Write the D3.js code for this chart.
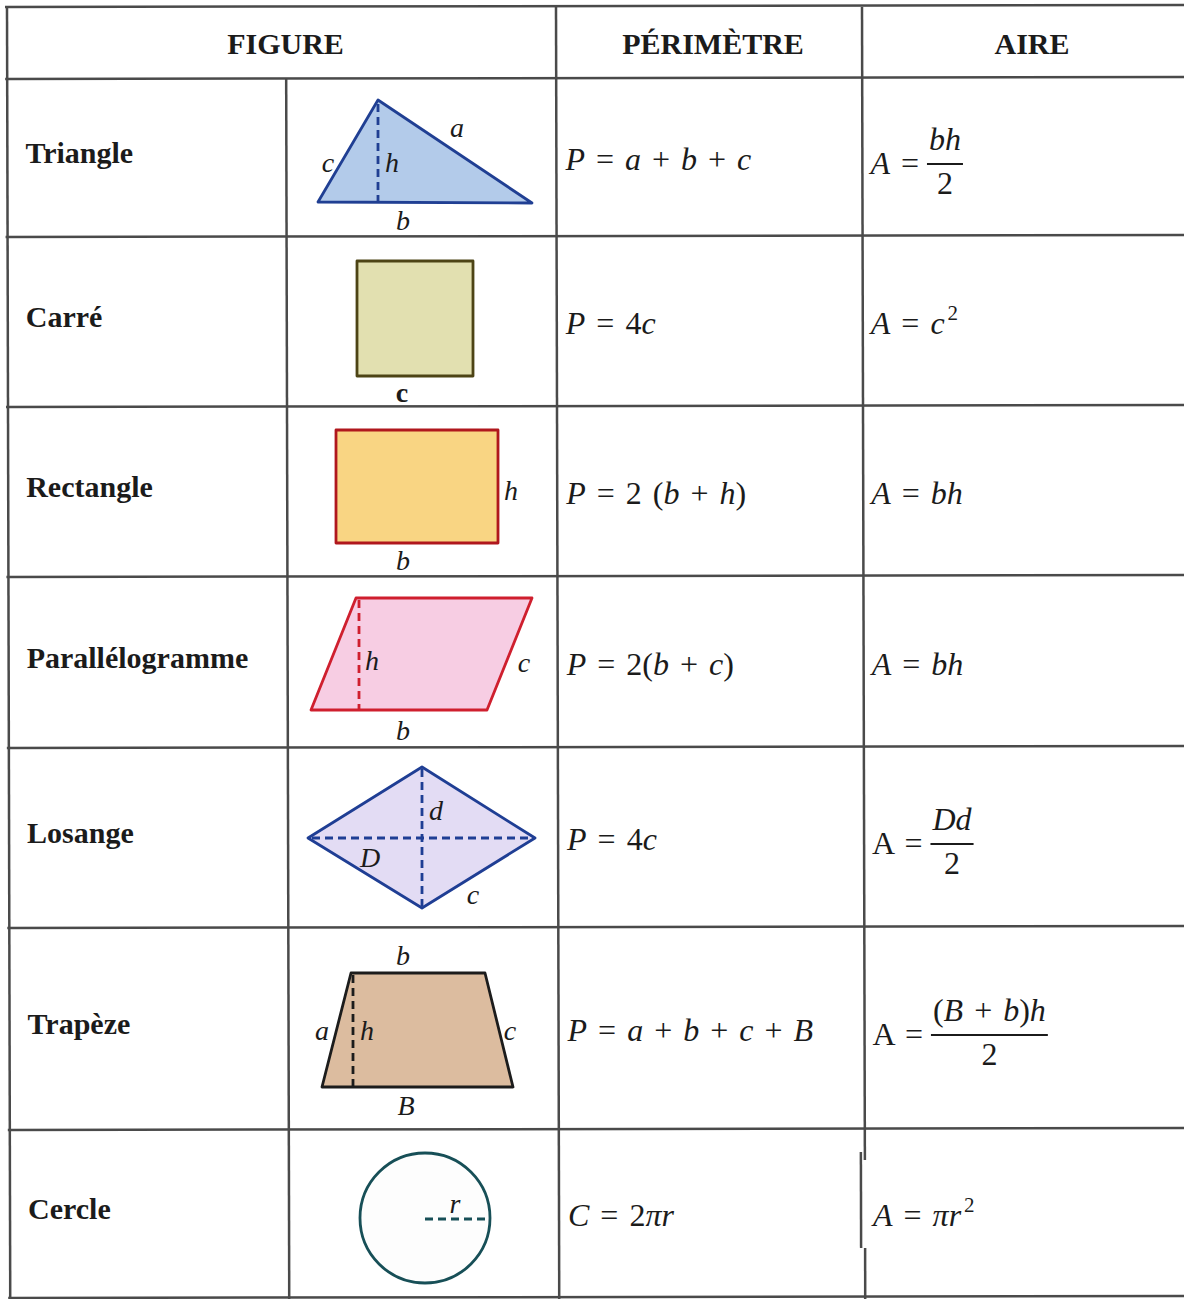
<!doctype html>
<meta charset='utf-8'>
<title>Périmètre et aire des figures</title>

<style type="text/css">
	body { margin:0; background:#fff; }
	svg text { font-family:'Liberation Serif', 'Times New Roman', serif; fill:#1b1b1b; }
	.head, .name { font-weight:bold; font-size:30px; }
	.math { font-size:32px; white-space:pre; word-spacing:3px; }
	.lbl { font-size:28px; font-style:italic; }
	.grid { stroke:#4a4a4a; stroke-width:2.5; fill:none; }
</style>

<div id='chart'></div>

<script src="https://cdnjs.cloudflare.com/ajax/libs/d3/7.8.5/d3.min.js" charset="utf-8"></script>
<script>

	// ---- data -------------------------------------------------------

	var headers    = ['FIGURE', 'PÉRIMÈTRE', 'AIRE']
	var figures    = ['Triangle', 'Carré', 'Rectangle', 'Parallélogramme', 'Losange', 'Trapèze', 'Cercle']
	var perimeters = ['P = a + b + c', 'P = 4c', 'P = 2 (b + h)', 'P = 2(b + c)', 'P = 4c', 'P = a + b + c + B', 'C = 2πr']
	var areaLeft   = ['A =', 'A = c^2', 'A = bh', 'A = bh', 'A =', 'A =', 'A = πr^2']
	var areaNum    = ['bh', null, null, null, 'Dd', '(B + b)h', null]
	var areaDen    = ['2', null, null, null, '2', '2', null]
	var uprightA   = [false, false, false, false, true, true, false]

	// ---- layout -----------------------------------------------------

	var W = 1184, H = 1299
	var colX = [7, 286, 556, 862, 1202]
	var rowY = [7, 79, 237, 407, 577, 748, 928, 1130, 1298]
	var slantX = 0.0025, slantY = 0.0017   // the scan is a little crooked

	// figure drawings, in pixels inside their cell (0,0 = top left of the cell)
	var drawings = [
		{ shape:'poly', fill:'#b3cbea', stroke:'#203f93', pts:[[92,21],[32,123],[246,124]],
		  dash:[[[92,25],[92,122]]], labels:[['a',171,48],['c',42,83],['h',106,83],['b',117,141]] },
		{ shape:'poly', fill:'#e2e0b0', stroke:'#4d4415', pts:[[71,24],[187,24],[187,139],[71,139]],
		  dash:[], labels:[['c',116,155,'bold']] },
		{ shape:'poly', fill:'#f9d583', stroke:'#b0171d', pts:[[50,23],[212,23],[212,136],[50,136]],
		  dash:[], labels:[['h',225,83],['b',117,153]] },
		{ shape:'poly', fill:'#f7cde3', stroke:'#cf1f2e', pts:[[70,21],[246,21],[201,133],[25,133]],
		  dash:[[[73,23],[73,132]]], labels:[['h',86,83],['c',238,85],['b',117,153]] },
		{ shape:'poly', fill:'#e3dcf4', stroke:'#1f3e94', pts:[[136,19],[249,90],[136,160],[22,90]],
		  dash:[[[26,90],[247,90]],[[136,21],[136,158]]], labels:[['d',150,62],['D',84,109],['c',187,146]] },
		{ shape:'poly', fill:'#dcbc9f', stroke:'#1c1c1c', pts:[[65,45],[199,45],[227,159],[36,159]],
		  dash:[[[67,47],[67,158]]], labels:[['b',117,27],['a',36,102],['h',81,102],['c',224,102],['B',120,177]] },
		{ shape:'circle', fill:'#fdfdfd', stroke:'#174f57', c:[139,88], r:65,
		  dash:[[[139,89],[204,89]]], labels:[['r',169,73]] }
	]

	// ---- helpers ----------------------------------------------------

	function vx(x0, y) { return x0 + (y - rowY[0]) * slantX }
	function hy(y0, x) { return y0 - (x - colX[0]) * slantY }

	// writes a formula: letters italic, digits and signs upright, ^n as exponent
	function mathText(parent, str, x, y, firstUpright) {
		var t = parent.append('text').attr('class', 'math').attr('x', x).attr('y', y)
		var tokens = str.match(/\^\d|[A-Za-zπ]|[^A-Za-zπ^]+/g)
		var raised = false
		tokens.forEach(function(tok, i) {
			var s = t.append('tspan')
			if (tok[0] === '^') {
				s.text(tok.slice(1)).attr('dx', 3).attr('dy', -14).style('font-size', '21px')
				raised = true
				return
			}
			if (raised) { s.attr('dy', 14); raised = false }
			var italic = /[A-Za-zπ]/.test(tok) && !(firstUpright && i === 0)
			s.text(tok).style('font-style', italic ? 'italic' : 'normal')
		})
		return t
	}

	// ---- drawing ----------------------------------------------------

	var svg = d3.select('#chart').append('svg')
		.attr('width', W).attr('height', H)
		.attr('viewBox', '0 0 ' + W + ' ' + H)

	var grid = svg.append('g')

	// horizontal rules
	rowY.forEach(function(y) {
		grid.append('line').attr('class', 'grid')
			.attr('x1', vx(colX[0], y) - 2).attr('y1', y)
			.attr('x2', W).attr('y2', hy(y, W))
	})
	// vertical rules
	grid.append('line').attr('class', 'grid')
		.attr('x1', vx(colX[0], rowY[0])).attr('y1', rowY[0])
		.attr('x2', vx(colX[0], H)).attr('y2', H)
	grid.append('line').attr('class', 'grid')
		.attr('x1', vx(colX[1], rowY[1])).attr('y1', rowY[1])
		.attr('x2', vx(colX[1], H)).attr('y2', H)
	grid.append('line').attr('class', 'grid')
		.attr('x1', vx(colX[2], rowY[0])).attr('y1', rowY[0])
		.attr('x2', vx(colX[2], H)).attr('y2', H)
	// the last column rule breaks and jumps left a little in the circle row
	var brk = [1160, 1248]
	;[[rowY[0], brk[0]], [brk[1], H]].forEach(function(seg) {
		grid.append('line').attr('class', 'grid')
			.attr('x1', vx(colX[3], seg[0])).attr('y1', seg[0])
			.attr('x2', vx(colX[3], seg[1])).attr('y2', seg[1])
	})
	grid.append('line').attr('class', 'grid')
		.attr('x1', vx(colX[3], brk[0]) - 4).attr('y1', brk[0] - 8)
		.attr('x2', vx(colX[3], brk[1]) - 4).attr('y2', brk[1])

	// headers
	var headCenters = [(colX[0] + colX[2]) / 2 + 4, (colX[2] + colX[3]) / 2 + 4, (colX[3] + colX[4]) / 2]
	svg.selectAll('.head').data(headers).enter().append('text')
		.attr('class', 'head')
		.attr('x', function(d, i) { return headCenters[i] })
		.attr('y', (rowY[0] + rowY[1]) / 2 + 11)
		.attr('text-anchor', 'middle')
		.text(function(d) { return d })

	var line = d3.line()

	figures.forEach(function(name, i) {
		var top = rowY[i + 1], bottom = rowY[i + 2]
		var mid = (top + bottom) / 2

		// name
		svg.append('text').attr('class', 'name')
			.attr('x', vx(colX[0], mid) + 18)
			.attr('y', mid + 5)
			.text(name)

		// drawing, through cell scales
		var d = drawings[i]
		var xs = d3.scaleLinear().domain([0, colX[2] - colX[1]]).range([colX[1], colX[2]])
		var ys = d3.scaleLinear().domain([0, bottom - top]).range([top, bottom])
		var g = svg.append('g')

		if (d.shape === 'poly') {
			g.append('path')
				.attr('d', line(d.pts.map(function(p) { return [xs(p[0]), ys(p[1])] })) + 'Z')
				.attr('fill', d.fill).attr('stroke', d.stroke)
				.attr('stroke-width', 2.8).attr('stroke-linejoin', 'round')
		} else {
			g.append('circle')
				.attr('cx', xs(d.c[0])).attr('cy', ys(d.c[1])).attr('r', d.r)
				.attr('fill', d.fill).attr('stroke', d.stroke).attr('stroke-width', 2.8)
		}
		d.dash.forEach(function(seg) {
			g.append('path')
				.attr('d', line(seg.map(function(p) { return [xs(p[0]), ys(p[1])] })))
				.attr('stroke', d.stroke).attr('stroke-width', 2.8)
				.attr('stroke-dasharray', '8,5').attr('fill', 'none')
		})
		d.labels.forEach(function(l) {
			g.append('text').attr('class', 'lbl')
				.attr('x', xs(l[1])).attr('y', ys(l[2]))
				.attr('text-anchor', 'middle').attr('dominant-baseline', 'central')
				.style('font-style', l[3] === 'bold' ? 'normal' : 'italic')
				.style('font-weight', l[3] === 'bold' ? 'bold' : 'normal')
				.text(l[0])
		})

		// perimeter
		mathText(svg, perimeters[i], vx(colX[2], mid) + 9, mid + 12, false)

		// area
		var ax = vx(colX[3], mid) + 8
		if (areaNum[i] === null) {
			mathText(svg, areaLeft[i], ax, mid + 12, uprightA[i])
		} else {
			var lhs = mathText(svg, areaLeft[i], ax, mid + 16, uprightA[i])
			var bx = ax + lhs.node().getComputedTextLength() + 8
			var num = mathText(svg, areaNum[i], 0, mid - 8, false)
			var nw = num.node().getComputedTextLength()
			var den = mathText(svg, areaDen[i], 0, mid + 36, false)
			var dw = den.node().getComputedTextLength()
			var bw = Math.max(nw, dw) + 4
			num.attr('x', bx + (bw - nw) / 2)
			den.attr('x', bx + (bw - dw) / 2)
			svg.append('line')
				.attr('x1', bx).attr('x2', bx + bw)
				.attr('y1', mid + 6).attr('y2', mid + 6)
				.attr('stroke', '#1b1b1b').attr('stroke-width', 2)
		}
	})

</script>
